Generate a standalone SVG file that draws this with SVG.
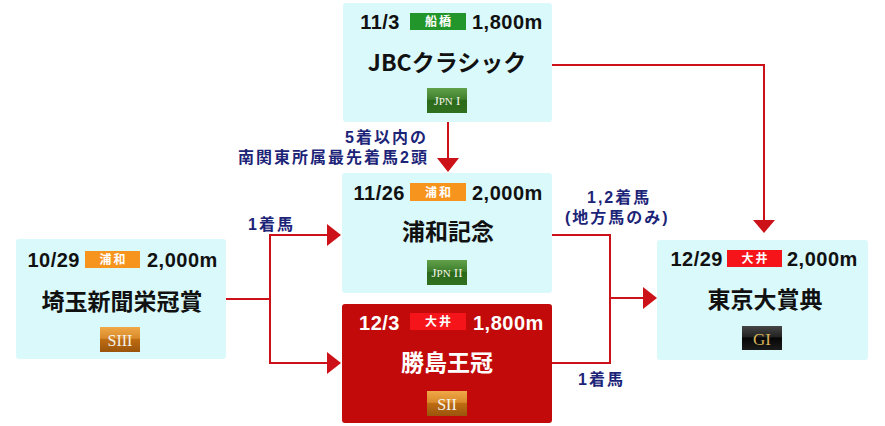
<svg xmlns="http://www.w3.org/2000/svg" width="885" height="426" viewBox="0 0 885 426">
<defs>
<linearGradient id="gJpn" x1="0" y1="0" x2="0" y2="1">
<stop offset="0" stop-color="#62a04a"/><stop offset="0.45" stop-color="#3f802d"/><stop offset="0.5" stop-color="#2b6a1a"/><stop offset="1" stop-color="#30701f"/>
</linearGradient>
<linearGradient id="gS" x1="0" y1="0" x2="0" y2="1">
<stop offset="0" stop-color="#f0a848"/><stop offset="0.45" stop-color="#d98a2a"/><stop offset="0.5" stop-color="#be6c12"/><stop offset="1" stop-color="#9a540c"/>
</linearGradient>
<linearGradient id="gG" x1="0" y1="0" x2="0" y2="1">
<stop offset="0" stop-color="#464646"/><stop offset="0.45" stop-color="#222"/><stop offset="0.5" stop-color="#060606"/><stop offset="1" stop-color="#1c1c1c"/>
</linearGradient>
</defs>
<style>
.box{fill:#d9f9fb}
.rbox{fill:#c20a0a}
.dt{font-family:"Liberation Sans",Arial,sans-serif;font-weight:bold;font-size:20px;letter-spacing:0.5px;fill:#111}
.ttl{font-family:"Noto Sans CJK JP",sans-serif;font-weight:bold;font-size:23px;fill:#111;text-anchor:middle}
.w{fill:#fff}
.ven{font-family:"Noto Sans CJK JP",sans-serif;font-weight:bold;font-size:12px;fill:#fff;text-anchor:middle;letter-spacing:2px}
.gr{font-family:"Liberation Serif","Times New Roman",serif;fill:#f4f4ea;text-anchor:middle}
.lbl{font-family:"Liberation Sans","Noto Sans CJK JP",sans-serif;font-weight:bold;font-size:16px;fill:#1c2478;letter-spacing:2px}
.ln{fill:none;stroke:#cc1218;stroke-width:2}
.ah{fill:#cc1218}
</style>

<g id="connectors">
<path class="ln" d="M448,122 V159"/>
<polygon class="ah" points="437,158 459,158 448,172"/>
<path class="ln" d="M552,65 H764 V221"/>
<polygon class="ah" points="753,220 775,220 764,233"/>
<path class="ln" d="M226,299 H270 M270,235 V363 M269,235 H328 M269,363 H328"/>
<polygon class="ah" points="327,224 327,246 341,235"/>
<polygon class="ah" points="327,352 327,374 341,363"/>
<path class="ln" d="M552,235 H610 V363 H552 M610,298 H644"/>
<polygon class="ah" points="643,287 643,309 657,298"/>
</g>

<g id="labels">
<text class="lbl" x="345" y="143">5着以内の</text>
<text class="lbl" x="238" y="163">南関東所属最先着馬2頭</text>
<text class="lbl" x="248" y="230">1着馬</text>
<text class="lbl" x="587" y="203">1,2着馬</text>
<text class="lbl" x="565" y="223">(地方馬のみ)</text>
<text class="lbl" x="578" y="385">1着馬</text>
</g>

<g id="jbc">
<rect class="box" x="343" y="3" width="209" height="119" rx="3"/>
<text class="dt" x="400" y="29" text-anchor="end">11/3</text>
<rect x="410" y="13" width="56" height="17" fill="#22962a"/>
<text class="ven" x="439" y="26">船橋</text>
<text class="dt" x="472" y="29">1,800m</text>
<text class="ttl" x="447" y="71">JBCクラシック</text>
<rect x="427" y="88" width="40" height="25" fill="url(#gJpn)"/>
<text class="gr" x="447" y="105"><tspan font-size="13">J</tspan><tspan font-size="11">PN</tspan><tspan font-size="13"> I</tspan></text>
</g>

<g id="urawa">
<rect class="box" x="342" y="173" width="210" height="120" rx="3"/>
<text class="dt" x="405" y="200" text-anchor="end">11/26</text>
<rect x="410" y="183" width="56" height="18" fill="#f7941d"/>
<text class="ven" x="439" y="197">浦和</text>
<text class="dt" x="472" y="200">2,000m</text>
<text class="ttl" x="448" y="240">浦和記念</text>
<rect x="427" y="260" width="40" height="25" fill="url(#gJpn)"/>
<text class="gr" x="447" y="277"><tspan font-size="13">J</tspan><tspan font-size="11">PN</tspan><tspan font-size="13"> II</tspan></text>
</g>

<g id="saitama">
<rect class="box" x="16" y="239" width="210" height="120" rx="3"/>
<text class="dt" x="80" y="267" text-anchor="end">10/29</text>
<rect x="85" y="251" width="55" height="17" fill="#f7941d"/>
<text class="ven" x="113.5" y="264">浦和</text>
<text class="dt" x="147" y="267">2,000m</text>
<text class="ttl" x="122" y="310">埼玉新聞栄冠賞</text>
<rect x="100" y="327" width="40" height="25" fill="url(#gS)"/>
<text class="gr" x="120" y="345.5" font-size="16">SIII</text>
</g>

<g id="katsushima">
<rect class="rbox" x="342" y="304" width="210" height="119" rx="3"/>
<text class="dt w" x="400" y="330" text-anchor="end">12/3</text>
<rect x="410" y="313" width="56" height="17" fill="#f5141a"/>
<text class="ven" x="439" y="326">大井</text>
<text class="dt w" x="473" y="330">1,800m</text>
<text class="ttl w" x="447" y="371">勝島王冠</text>
<rect x="427" y="391" width="40" height="25" fill="url(#gS)"/>
<text class="gr" x="447" y="409.5" font-size="16">SII</text>
</g>

<g id="tokyo">
<rect class="box" x="657" y="240" width="211" height="120" rx="3"/>
<text class="dt" x="723" y="266" text-anchor="end">12/29</text>
<rect x="727" y="250" width="55" height="17" fill="#f5141a"/>
<text class="ven" x="755.5" y="263">大井</text>
<text class="dt" x="787" y="266">2,000m</text>
<text class="ttl" x="765" y="308">東京大賞典</text>
<rect x="742" y="326" width="40" height="24" fill="url(#gG)"/>
<text class="gr" x="762" y="344.5" font-size="17" style="fill:#d8b25a">GI</text>
</g>
</svg>
